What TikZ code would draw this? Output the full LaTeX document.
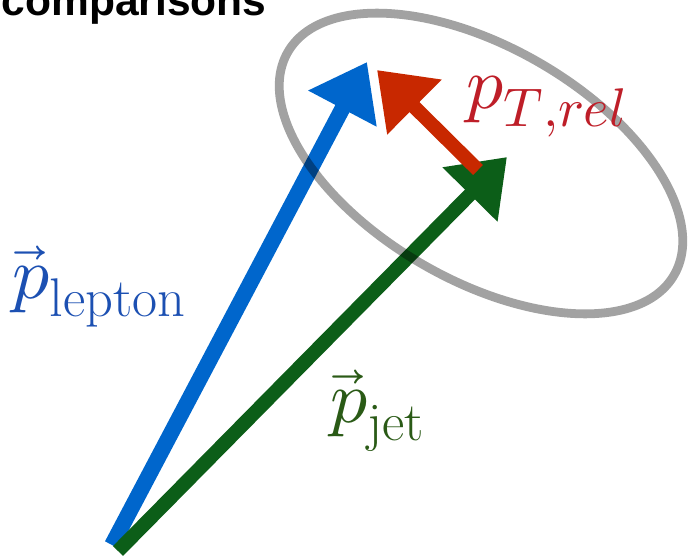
\documentclass[tikz,border=0pt]{standalone}
\usepackage{amsmath,amssymb}
\usepackage{fontspec}
\usepackage{unicode-math}
\setmathfont{Latin Modern Math}
\newfontfamily\titlefont{Liberation Sans}
\DeclareMathSizes{42}{42}{31}{24}
\usetikzlibrary{arrows.meta}

\definecolor{lepblue}{RGB}{0,102,204}
\definecolor{jetgreen}{RGB}{12,94,24}
\definecolor{relred}{RGB}{200,40,0}
\definecolor{ringgray}{RGB}{162,162,162}
\definecolor{lblblue}{RGB}{28,80,178}
\definecolor{lblgreen}{RGB}{42,90,22}
\definecolor{lblred}{RGB}{190,30,40}

\begin{document}
\begin{tikzpicture}[
        mom/.style={line width=8.5pt, -{Triangle[length=30pt,width=42pt]}},
        ring/.style={draw=ringgray, line width=5pt},
        lbl/.style={inner sep=0pt, anchor=base west, font=\fontsize{42}{48}\selectfont}
      ]
        \useasboundingbox (0,0) rectangle (13.76,11.16);

        % Titel
        \node[inner sep=0pt, anchor=base west, font=\titlefont\bfseries\fontsize{24.2}{29}\selectfont]
          (title) at (0.03,10.86) {comparisons};

        % Punkte
        \coordinate (olep) at (2.24,0.26);
        \coordinate (ojet) at (2.36,0.14);
        \coordinate (lep) at (7.34,9.92);
        \coordinate (jet) at (10.14,8.02);
        \coordinate (rel) at (7.54,9.76);
        \coordinate (relstart) at (9.56,7.76);

        % Vektoren
        \draw[mom, lepblue, line width=9pt] (olep) -- (lep);
        \draw[mom, jetgreen, line width=8pt] (ojet) -- (jet);
        \draw[mom, relred, line width=8pt] (relstart) -- (rel);

        % Ellipse
        \begin{scope}[blend mode=multiply]
          \draw[ring] (9.62,7.89) ellipse[x radius=4.46, y radius=2.33, rotate=-30];
        \end{scope}

        % Beschriftung
        \node[lbl, lblblue] (plep) at (0.24,5.2) {$\vec{p}_{\mathrm{lepton}}$};
        \node[lbl, lblgreen] (pjet) at (6.6,2.72) {$\vec{p}_{\mathrm{jet}}$};
        \node[lbl, lblred] (prel) at (9.32,9.0) {$p_{T,rel}$};
      \end{tikzpicture}
\end{document}
